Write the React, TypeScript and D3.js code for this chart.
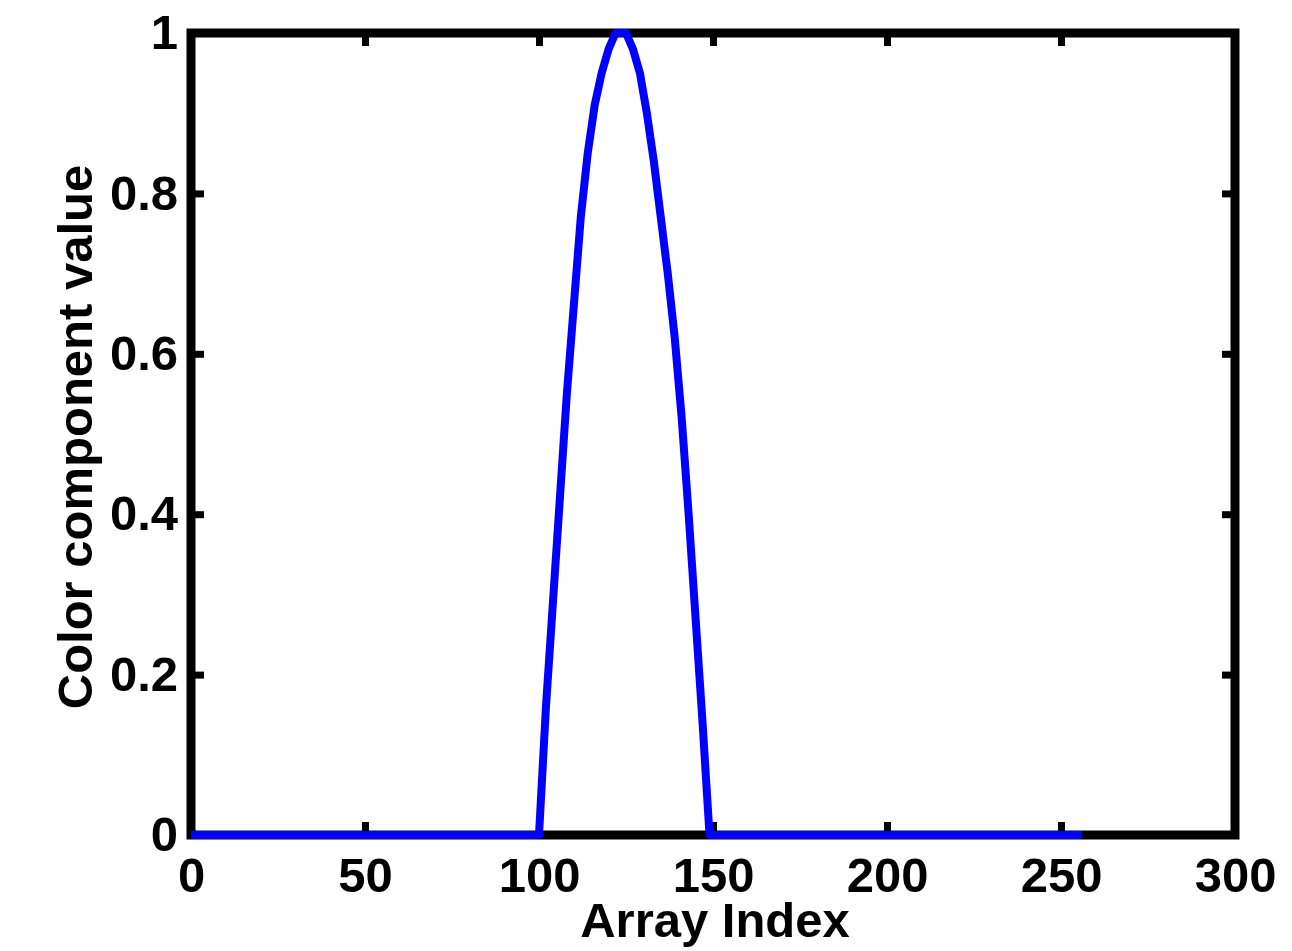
import React, { useEffect, useRef } from 'react';
import * as d3 from 'd3';

// Colormap component curve
const indexValues = [0, 100, 102, 104, 106, 108, 110, 112, 114, 116, 118, 120, 122, 125, 127, 129, 131, 133, 135, 137, 139, 141, 143, 145, 147, 149, 256];
const componentValues = [0, 0, 0.16, 0.29, 0.42, 0.55, 0.66, 0.77, 0.85, 0.91, 0.95, 0.98, 1.0, 1.0, 0.98, 0.95, 0.9, 0.84, 0.77, 0.7, 0.62, 0.52, 0.4, 0.27, 0.14, 0, 0];

const xTicks = [0, 50, 100, 150, 200, 250, 300];
const yTicks = [0, 0.2, 0.4, 0.6, 0.8, 1];

const App = () => {
  const svgRef = useRef<SVGSVGElement>(null);

  useEffect(() => {
    const svg = d3.select(svgRef.current);
    svg.selectAll('*').remove();

    const left = 191, right = 1235, top = 33, bottom = 835;
    const font = '"Liberation Sans", Arial, Helvetica, sans-serif';
    const fontSize = 49;

    const xScale = d3.scaleLinear().domain([0, 300]).range([left, right]);
    const yScale = d3.scaleLinear().domain([0, 1]).range([bottom, top]);

    const styleAxis = (g: any) => {
      g.select('.domain').remove();
      g.selectAll('.tick line').attr('stroke', '#000').attr('stroke-width', 7);
      g.attr('font-family', font).attr('font-size', fontSize).attr('font-weight', 'bold');
      g.selectAll('.tick text').attr('fill', '#000');
    };

    // Bottom axis with labels
    svg.append('g')
      .attr('transform', `translate(0,${bottom})`)
      .call(d3.axisBottom(xScale).tickValues(xTicks).tickSize(-13).tickPadding(22).tickFormat(d3.format('d')))
      .call(styleAxis);

    // Top axis, ticks only
    svg.append('g')
      .attr('transform', `translate(0,${top})`)
      .call(d3.axisTop(xScale).tickValues(xTicks).tickSize(-13).tickFormat(() => ''))
      .call(styleAxis);

    // Left axis with labels
    svg.append('g')
      .attr('transform', `translate(${left},0)`)
      .call(d3.axisLeft(yScale).tickValues(yTicks).tickSize(-13).tickPadding(13).tickFormat(d => `${d}`))
      .call(styleAxis);

    // Right axis, ticks only
    svg.append('g')
      .attr('transform', `translate(${right},0)`)
      .call(d3.axisRight(yScale).tickValues(yTicks).tickSize(-13).tickFormat(() => ''))
      .call(styleAxis);

    // Axes box
    svg.append('rect')
      .attr('x', left)
      .attr('y', top)
      .attr('width', right - left)
      .attr('height', bottom - top)
      .attr('fill', 'none')
      .attr('stroke', '#000')
      .attr('stroke-width', 9);

    // Curve
    const points = indexValues.map((x, i) => [x, componentValues[i]] as [number, number]);
    const line = d3.line<[number, number]>()
      .x(d => xScale(d[0]))
      .y(d => yScale(d[1]));

    svg.append('path')
      .datum(points)
      .attr('fill', 'none')
      .attr('stroke', '#0000ff')
      .attr('stroke-width', 8)
      .attr('stroke-linejoin', 'round')
      .attr('d', line);

    // Axis labels
    svg.append('text')
      .attr('x', (left + right) / 2 + 2)
      .attr('y', 937)
      .attr('text-anchor', 'middle')
      .attr('font-family', font)
      .attr('font-size', fontSize)
      .attr('font-weight', 'bold')
      .text('Array Index');

    svg.append('text')
      .attr('transform', `translate(92, ${(top + bottom) / 2 + 3}) rotate(-90)`)
      .attr('text-anchor', 'middle')
      .attr('font-family', font)
      .attr('font-size', fontSize)
      .attr('font-weight', 'bold')
      .text('Color component value');
  }, []);

  return (
    <div style={{ position: 'absolute', left: 0, top: 0 }}>
      <svg ref={svgRef} width={1292} height={951} style={{ display: 'block', background: '#fff' }}></svg>
    </div>
  );
};

export default App;
